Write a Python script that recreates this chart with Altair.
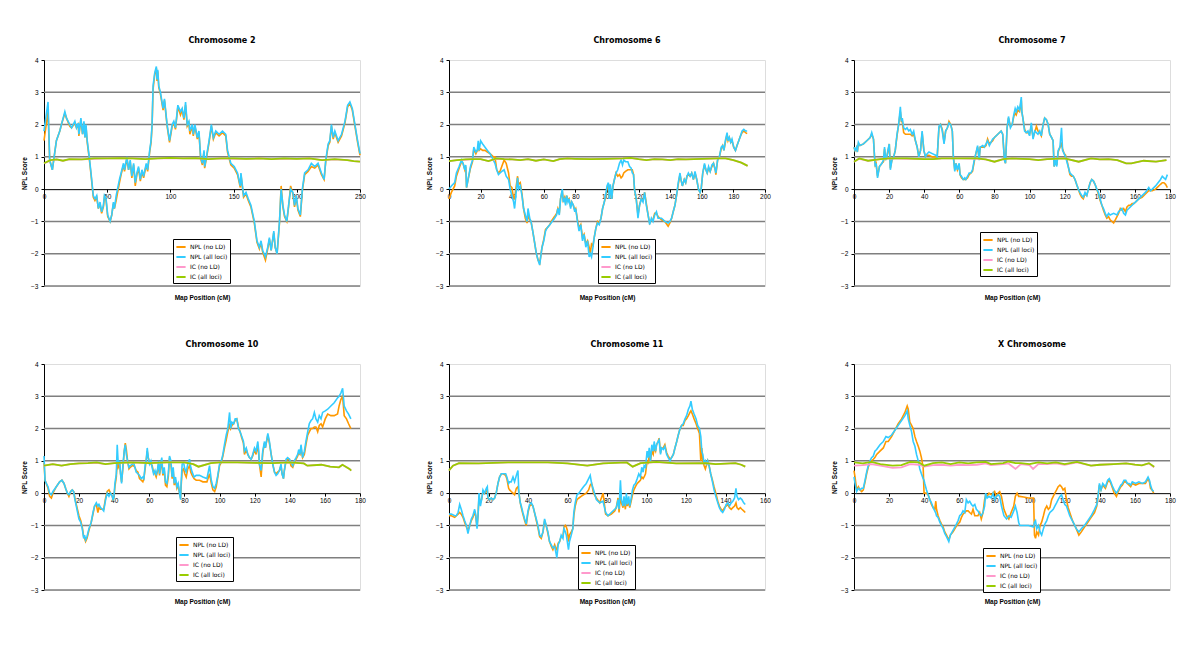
import altair as alt
import pandas as pd

FONT = "DejaVu Sans"
SERIES = ["NPL (no LD)", "NPL (all loci)", "IC (no LD)", "IC (all loci)"]
COLORS = ["#FF9900", "#33CCFF", "#FF99CC", "#99CC00"]
Y_TICKS = [-3, -2, -1, 0, 1, 2, 3, 4]
GRID_VALUES = [-3, -2, -1, 1, 2, 3]

# rows: (map position cM, NPL all loci, NPL no LD)
CHR2_NPL = [
    (0, 1.8, 1.5), (3.2, 2.7, 2.4), (4.5, 0.9, 0.9), (6.6, 0.6, 0.6), (9.8, 1.5, 1.5),
    (12.5, 1.8, 1.8), (13.8, 2.0, 2.0), (16.5, 2.4, 2.35), (17.8, 2.2, 2.2), (20.4, 2.0, 1.95),
    (21.8, 1.9, 1.9), (24.4, 2.1, 2.05), (25.7, 1.9, 1.9), (27.1, 2.05, 2.0), (27.6, 1.7, 1.65),
    (29.2, 2.2, 2.15), (30.5, 1.7, 1.7), (31.6, 2.1, 2.05), (32.4, 1.6, 1.6), (33.2, 2.0, 1.95),
    (34.2, 1.5, 1.45), (35.8, 1.0, 0.95), (37.2, 0.5, 0.45), (39.0, -0.2, -0.25), (40.3, -0.3, -0.35),
    (41.7, -0.2, -0.25), (43.0, -0.6, -0.6), (44.3, -0.4, -0.45), (45.6, -0.7, -0.75), (47.0, -0.5, -0.55),
    (47.8, -0.2, -0.25), (49.1, -0.3, -0.35), (50.4, -0.8, -0.85), (52.3, -1.0, -1.0), (53.6, -0.8, -0.8),
    (54.9, -0.4, -0.45), (55.7, -0.6, -0.6), (57.1, -0.2, -0.35), (59.7, 0.3, 0.2), (61.0, 0.5, 0.45),
    (62.9, 0.8, 0.75), (63.7, 0.6, 0.55), (65.6, 1.0, 0.95), (66.9, 0.6, 0.6), (68.2, 0.9, 0.85),
    (69.5, 0.4, 0.35), (70.9, 0.8, 0.75), (72.2, 0.2, 0.1), (73.5, 0.5, 0.45), (74.8, 0.7, 0.65),
    (76.2, 0.3, 0.25), (77.5, 0.6, 0.55), (78.8, 0.4, 0.35), (80.9, 0.8, 0.75), (82.0, 0.6, 0.55),
    (83.6, 1.2, 1.15), (84.7, 1.5, 1.45), (85.5, 2.0, 1.95), (86.3, 3.2, 3.1), (87.6, 3.6, 3.55),
    (88.9, 3.8, 3.75), (89.4, 3.4, 3.35), (90.0, 3.7, 3.65), (90.8, 3.2, 3.15), (92.1, 3.0, 2.95),
    (94.2, 2.5, 2.45), (95.3, 2.8, 2.75), (97.4, 2.0, 1.95), (99.3, 1.5, 1.45), (101.4, 2.0, 1.95),
    (102.7, 2.1, 2.05), (104.0, 1.9, 1.85), (105.9, 2.6, 2.55), (108.0, 2.4, 2.3), (109.3, 2.5, 2.45),
    (110.7, 2.2, 2.15), (112.0, 2.7, 2.6), (113.3, 2.0, 1.95), (114.6, 2.1, 2.05), (115.4, 1.8, 1.7),
    (117.3, 2.0, 1.95), (118.1, 1.7, 1.65), (119.4, 2.0, 1.95), (121.3, 1.6, 1.55), (122.6, 1.8, 1.75),
    (123.9, 1.0, 0.95), (125.3, 0.8, 0.75), (126.6, 1.2, 1.15), (127.1, 0.7, 0.65), (128.5, 1.0, 0.95),
    (130.6, 1.5, 1.45), (132.4, 2.0, 1.95), (134.0, 1.6, 1.55), (135.9, 1.8, 1.75), (138.5, 1.7, 1.65),
    (141.2, 1.8, 1.75), (143.8, 1.7, 1.65), (145.2, 1.2, 1.15), (147.8, 0.8, 0.75), (150.5, 0.7, 0.65),
    (153.1, 0.5, 0.45), (155.3, 0.1, 0.05), (155.8, 0.5, 0.45), (157.9, -0.2, -0.25), (159.8, -0.1, -0.15),
    (161.6, -0.3, -0.35), (163.7, -0.5, -0.55), (166.4, -1.0, -1.05), (168.5, -1.6, -1.65), (170.4, -1.8, -1.85),
    (171.7, -1.6, -1.65), (173.0, -1.9, -1.95), (175.2, -2.1, -2.2), (177.0, -1.8, -1.85), (178.3, -1.5, -1.55),
    (179.7, -1.9, -1.9), (181.8, -1.3, -1.35), (182.9, -1.8, -1.8), (184.4, -2.0, -2.0), (186.3, -1.0, -1.05),
    (187.6, 0.0, 0.1), (189.0, -0.5, -0.55), (190.3, -0.8, -0.85), (192.1, -1.0, -1.0), (193.5, -0.5, -0.55),
    (195.1, 0.0, 0.1), (196.9, -0.1, -0.15), (198.2, -0.5, -0.55), (199.6, -0.2, -0.25), (200.9, -0.6, -0.65),
    (202.8, -0.8, -0.85), (204.4, 0.0, -0.05), (206.2, 0.5, 0.45), (208.9, 0.6, 0.55), (211.5, 0.8, 0.7),
    (214.2, 0.7, 0.65), (216.8, 0.8, 0.75), (219.5, 0.5, 0.45), (221.6, 0.3, 0.3), (222.9, 0.9, 0.85),
    (224.8, 1.4, 1.35), (226.1, 1.5, 1.45), (227.4, 2.0, 1.95), (228.8, 1.6, 1.55), (230.1, 1.8, 1.75),
    (232.7, 1.5, 1.45), (235.4, 1.7, 1.65), (238.1, 2.1, 2.05), (240.2, 2.6, 2.55), (242.0, 2.7, 2.65),
    (243.9, 2.5, 2.45), (246.0, 2.0, 1.95), (248.1, 1.5, 1.45), (250.0, 1.1, 1.05),
]
# rows: (map position cM, IC all loci, IC no LD)
CHR2_IC = [
    (0, 0.80, 0.80), (5, 0.90, 0.89), (10, 0.92, 0.92), (15, 0.88, 0.88), (20, 0.93, 0.92),
    (30, 0.92, 0.92), (40, 0.95, 0.94), (50, 0.95, 0.95), (60, 0.96, 0.95), (70, 0.95, 0.95),
    (80, 0.93, 0.93), (90, 0.95, 0.95), (100, 0.97, 0.96), (110, 0.95, 0.95), (120, 0.96, 0.95),
    (130, 0.93, 0.93), (140, 0.95, 0.95), (150, 0.95, 0.94), (160, 0.94, 0.94), (170, 0.95, 0.95),
    (180, 0.93, 0.93), (190, 0.95, 0.94), (200, 0.94, 0.94), (210, 0.95, 0.95), (220, 0.90, 0.90),
    (230, 0.93, 0.92), (240, 0.90, 0.90), (245, 0.87, 0.87), (250, 0.85, 0.85),
]

CHR6_NPL = [
    (0, 0.0, -0.3), (1.5, 0.1, -0.1), (3.6, 0.2, 0.1), (4.7, 0.5, 0.4), (6.4, 0.7, 0.65),
    (7.9, 0.9, 0.85), (8.9, 0.8, 0.8), (10.0, 0.6, 0.6), (10.6, 0.75, 0.7), (11.1, 0.05, 0.05),
    (12.1, 0.3, 0.3), (13.6, 0.7, 0.65), (14.9, 0.9, 0.85), (15.7, 1.3, 1.25), (17.0, 1.15, 1.1),
    (17.9, 1.2, 1.2), (18.5, 1.5, 1.3), (19.1, 1.2, 1.2), (20.0, 1.5, 1.25), (21.3, 1.4, 1.2),
    (22.8, 1.3, 1.2), (24.3, 1.2, 1.15), (26.0, 1.1, 1.1), (28.1, 0.9, 1.0), (29.1, 0.8, 1.0),
    (30.2, 0.6, 0.6), (31.3, 0.45, 0.5), (32.3, 0.5, 0.55), (33.4, 0.55, 0.7), (34.9, 0.6, 0.9),
    (36.2, 0.4, 0.8), (37.7, 0.3, 0.5), (38.7, 0.0, 0.1), (39.8, -0.2, 0.05), (40.9, -0.4, -0.3),
    (41.5, -0.6, -0.3), (42.3, -0.2, 0.0), (43.4, 0.35, 0.4), (44.0, 0.0, 0.15), (45.1, 0.1, 0.2),
    (46.2, -0.2, -0.15), (47.2, -0.6, -0.6), (48.3, -0.8, -0.9), (49.4, -1.0, -1.05), (50.0, -0.6, -0.8),
    (51.1, -0.9, -0.95), (51.9, -1.0, -1.0), (53.0, -1.3, -1.3), (54.0, -1.6, -1.6), (55.3, -2.0, -2.0),
    (56.4, -2.2, -2.2), (57.4, -2.35, -2.3), (58.3, -2.0, -2.0), (58.9, -1.8, -1.8), (60.0, -1.6, -1.55),
    (61.1, -1.3, -1.25), (62.1, -1.2, -1.2), (63.8, -1.1, -1.1), (65.3, -1.0, -0.95), (66.8, -0.9, -0.85),
    (68.1, -0.8, -0.75), (68.9, -0.6, -0.6), (69.8, -0.8, -0.75), (70.6, -0.3, -0.3), (71.7, 0.0, -0.05),
    (72.3, -0.4, -0.35), (73.2, -0.3, -0.25), (73.8, -0.5, -0.45), (74.5, -0.2, -0.2), (75.3, -0.4, -0.35),
    (76.0, -0.3, -0.3), (77.0, -0.6, -0.55), (77.7, -0.4, -0.4), (78.7, -0.5, -0.5), (79.6, -0.7, -0.65),
    (80.2, -0.6, -0.6), (81.3, -1.0, -0.95), (82.3, -1.3, -1.2), (83.4, -1.1, -1.1), (84.5, -1.6, -1.5),
    (85.5, -1.4, -1.4), (86.6, -1.8, -1.7), (87.7, -1.6, -1.6), (88.7, -2.1, -1.8), (89.4, -2.0, -2.0),
    (90.2, -2.1, -1.7), (91.1, -1.8, -1.75), (91.9, -1.5, -1.5), (93.0, -1.2, -1.2), (94.0, -1.05, -1.0),
    (95.1, -1.1, -1.05), (96.2, -0.9, -0.9), (97.2, -0.6, -0.6), (98.3, -0.4, -0.4), (99.1, -0.2, -0.25),
    (100.0, 0.1, 0.0), (100.9, 0.2, 0.15), (101.5, -0.3, -0.25), (102.1, 0.15, 0.1), (103.0, -0.3, -0.3),
    (103.8, 0.1, 0.1), (104.7, 0.3, 0.3), (105.7, 0.5, 0.5), (106.8, 0.6, 0.4), (107.9, 0.8, 0.45),
    (108.9, 0.9, 0.35), (109.8, 0.75, 0.4), (110.6, 0.9, 0.5), (111.7, 0.85, 0.55), (113.2, 0.85, 0.6),
    (114.3, 0.7, 0.6), (115.3, 0.65, 0.6), (116.0, 0.5, 0.6), (116.8, 0.45, 0.45), (117.4, 0.0, 0.0),
    (118.5, -0.3, -0.3), (119.6, -0.9, -0.8), (120.6, -0.5, -0.5), (121.7, -0.3, -0.3), (122.8, -0.4, -0.35),
    (123.8, -0.1, -0.1), (124.9, -0.5, -0.45), (126.0, -0.8, -0.8), (127.0, -1.1, -1.05), (128.1, -0.9, -0.95),
    (129.1, -1.0, -0.95), (130.2, -0.8, -0.75), (131.3, -0.7, -0.75), (132.3, -0.9, -0.85), (134.5, -0.9, -0.95),
    (136.6, -1.0, -1.0), (138.7, -1.05, -1.15), (139.8, -1.0, -1.05), (140.9, -0.9, -0.9), (141.9, -0.7, -0.7),
    (143.0, -0.5, -0.5), (144.0, -0.2, -0.2), (145.1, 0.2, 0.15), (146.2, 0.5, 0.45), (146.8, 0.3, 0.3),
    (147.7, 0.1, 0.1), (148.9, 0.3, 0.3), (149.8, 0.2, 0.2), (150.6, 0.4, 0.4), (151.5, 0.5, 0.45),
    (152.6, 0.4, 0.4), (153.6, 0.5, 0.5), (154.7, 0.3, 0.3), (155.7, 0.55, 0.5), (156.8, 0.3, 0.3),
    (157.9, 0.0, 0.0), (158.9, -0.1, -0.1), (159.6, 0.0, 0.0), (160.6, 0.5, 0.5), (161.7, 0.8, 0.75),
    (162.6, 0.6, 0.6), (163.4, 0.5, 0.5), (164.3, 0.7, 0.65), (165.3, 0.55, 0.55), (166.4, 0.75, 0.7),
    (167.4, 0.8, 0.8), (168.5, 0.6, 0.6), (168.9, 0.5, 0.45), (170.0, 0.9, 0.9), (171.1, 1.0, 1.0),
    (172.3, 1.3, 1.25), (173.2, 1.35, 1.35), (174.0, 1.2, 1.2), (174.9, 1.5, 1.45), (176.0, 1.75, 1.7),
    (176.6, 1.5, 1.5), (177.4, 1.6, 1.6), (178.3, 1.45, 1.45), (179.1, 1.55, 1.5), (180.2, 1.3, 1.3),
    (181.3, 1.2, 1.2), (182.3, 1.35, 1.35), (183.4, 1.5, 1.5), (184.5, 1.65, 1.65), (185.5, 1.8, 1.75),
    (186.6, 1.85, 1.8), (187.7, 1.8, 1.75), (188.7, 1.8, 1.72),
]
CHR6_IC = [
    (0, 0.87, 0.87), (5, 0.90, 0.90), (10, 0.92, 0.91), (15, 0.93, 0.93), (20, 0.93, 0.93),
    (25, 0.87, 0.87), (30, 0.95, 0.94), (35, 0.93, 0.93), (40, 0.92, 0.92), (45, 0.90, 0.90),
    (50, 0.93, 0.93), (55, 0.88, 0.88), (60, 0.92, 0.92), (66, 0.87, 0.87), (70, 0.93, 0.93),
    (75, 0.95, 0.95), (80, 0.94, 0.94), (90, 0.93, 0.93), (100, 0.94, 0.94), (110, 0.95, 0.95),
    (115, 0.97, 0.96), (120, 0.93, 0.93), (125, 0.90, 0.90), (130, 0.93, 0.93), (135, 0.92, 0.92),
    (140, 0.90, 0.90), (145, 0.93, 0.93), (150, 0.92, 0.92), (160, 0.94, 0.94), (170, 0.95, 0.95),
    (175, 0.95, 0.95), (180, 0.90, 0.90), (185, 0.82, 0.82), (189, 0.72, 0.72),
]

CHR7_NPL = [
    (0, 1.3, 1.3), (0.6, 1.2, 1.2), (1.5, 1.3, 1.3), (1.9, 1.15, 1.15), (2.5, 1.45, 1.4),
    (3.4, 1.35, 1.35), (5.4, 1.4, 1.4), (7.3, 1.5, 1.5), (9.2, 1.6, 1.6), (10.1, 1.75, 1.7),
    (11.1, 1.55, 1.55), (11.7, 1.0, 1.0), (12.1, 0.7, 0.75), (12.6, 0.8, 0.8), (13.4, 0.35, 0.4),
    (14.5, 0.7, 0.7), (15.9, 0.8, 0.8), (16.8, 0.9, 0.85), (17.4, 1.3, 1.25), (18.0, 0.9, 0.9),
    (18.7, 1.0, 1.0), (19.3, 1.2, 1.15), (20.1, 1.4, 1.4), (20.7, 0.6, 0.65), (21.6, 0.9, 0.9),
    (22.6, 1.0, 1.0), (23.5, 1.2, 1.2), (24.5, 1.7, 1.65), (25.4, 2.0, 2.0), (26.4, 2.55, 2.4),
    (27.0, 2.1, 2.1), (27.5, 2.2, 2.1), (28.3, 1.9, 1.75), (29.3, 1.85, 1.7), (30.2, 1.9, 1.7),
    (31.2, 1.8, 1.7), (32.1, 1.85, 1.7), (33.1, 1.7, 1.65), (34.0, 1.8, 1.7), (35.0, 1.5, 1.5),
    (36.0, 1.3, 1.3), (36.9, 1.0, 1.0), (37.9, 1.2, 1.2), (38.8, 1.8, 1.75), (39.8, 1.2, 1.2),
    (40.7, 1.0, 1.0), (41.7, 1.1, 1.05), (42.7, 1.15, 1.05), (44.6, 1.1, 1.0), (46.5, 1.05, 1.0),
    (47.4, 1.0, 1.0), (48.4, 1.95, 1.9), (49.3, 2.0, 2.0), (50.3, 1.8, 1.85), (51.3, 1.4, 1.45),
    (52.2, 1.8, 1.8), (53.2, 1.9, 1.9), (54.1, 2.05, 2.1), (55.1, 2.0, 2.0), (56.0, 1.8, 1.8),
    (56.6, 1.0, 1.0), (57.4, 0.55, 0.6), (58.1, 0.8, 0.8), (58.9, 0.6, 0.6), (59.9, 0.8, 0.75),
    (60.4, 0.45, 0.45), (61.2, 0.4, 0.35), (62.2, 0.3, 0.3), (63.1, 0.35, 0.3), (63.7, 0.3, 0.3),
    (64.7, 0.4, 0.35), (65.6, 0.5, 0.45), (66.6, 0.5, 0.5), (67.5, 0.6, 0.55), (68.5, 0.9, 0.85),
    (69.4, 1.1, 1.1), (70.4, 1.35, 1.3), (71.3, 0.9, 0.95), (71.9, 1.3, 1.3), (73.3, 1.35, 1.3),
    (74.2, 1.3, 1.3), (75.2, 1.4, 1.35), (76.1, 1.5, 1.55), (77.1, 1.35, 1.4), (78.0, 1.45, 1.45),
    (79.0, 1.55, 1.5), (80.0, 1.6, 1.6), (81.9, 1.7, 1.7), (83.8, 1.8, 1.8), (84.7, 1.7, 1.7),
    (85.7, 0.9, 0.9), (86.3, 0.8, 0.8), (87.2, 1.9, 1.9), (88.0, 2.25, 2.2), (89.1, 1.9, 1.95),
    (90.1, 2.0, 2.0), (91.0, 2.3, 2.25), (91.8, 2.5, 2.35), (92.4, 2.4, 2.3), (93.3, 2.55, 2.45),
    (94.3, 2.45, 2.4), (95.3, 2.85, 2.75), (95.6, 2.4, 2.4), (96.2, 2.2, 2.2), (97.2, 1.8, 1.85),
    (98.1, 1.75, 1.75), (99.1, 1.8, 1.75), (100.0, 1.65, 1.7), (101.0, 2.05, 1.95), (102.0, 1.55, 1.6),
    (102.9, 1.8, 1.75), (103.9, 1.75, 1.95), (104.8, 1.7, 1.8), (105.8, 1.8, 1.75), (106.7, 1.65, 1.65),
    (107.7, 2.0, 2.0), (108.6, 2.2, 2.2), (109.6, 2.15, 2.15), (110.6, 2.0, 2.0), (111.5, 1.7, 1.7),
    (112.5, 1.6, 1.6), (113.4, 1.5, 1.5), (114.0, 0.7, 0.7), (114.8, 0.9, 0.85), (115.5, 0.7, 0.75),
    (116.3, 1.2, 1.15), (117.3, 1.3, 1.3), (118.2, 1.9, 1.4), (118.8, 1.2, 1.25), (119.7, 1.1, 1.1),
    (120.5, 1.0, 1.05), (121.5, 0.8, 0.85), (123.0, 0.5, 0.45), (123.9, 0.45, 0.4), (124.9, 0.4, 0.4),
    (125.9, 0.3, 0.3), (126.8, 0.15, 0.15), (127.8, 0.0, 0.0), (128.7, -0.1, -0.15), (129.7, -0.2, -0.25),
    (130.6, -0.25, -0.3), (131.6, -0.1, -0.15), (132.6, -0.2, -0.2), (133.5, 0.0, 0.0), (134.5, 0.2, 0.2),
    (135.4, 0.3, 0.3), (136.4, 0.25, 0.25), (137.3, 0.15, 0.15), (138.3, 0.0, 0.0), (139.2, -0.1, -0.15),
    (140.2, -0.3, -0.35), (141.2, -0.5, -0.5), (142.1, -0.6, -0.65), (143.1, -0.75, -0.8), (144.0, -0.85, -0.9),
    (145.0, -0.75, -0.85), (145.9, -0.8, -0.95), (147.9, -0.75, -1.05), (149.8, -0.8, -0.85), (150.7, -0.7, -0.75),
    (151.7, -0.65, -0.6), (152.6, -0.6, -0.65), (153.6, -0.75, -0.6), (154.6, -0.8, -0.7), (155.5, -0.65, -0.55),
    (156.5, -0.6, -0.5), (157.4, -0.55, -0.5), (158.4, -0.5, -0.45), (159.3, -0.45, -0.45), (160.3, -0.4, -0.4),
    (162.2, -0.3, -0.3), (164.1, -0.2, -0.25), (166.0, -0.1, -0.15), (167.9, 0.05, -0.05), (168.9, -0.05, -0.05),
    (169.9, 0.0, -0.05), (171.8, 0.1, 0.0), (174.6, 0.3, 0.15), (175.6, 0.4, 0.2), (176.5, 0.35, 0.2),
    (177.5, 0.3, 0.15), (178.5, 0.45, 0.05),
]
CHR7_IC = [
    (0, 0.85, 0.85), (3, 0.95, 0.94), (8, 0.88, 0.88), (15, 0.93, 0.93), (20, 0.95, 0.95),
    (30, 0.95, 0.94), (40, 0.93, 0.93), (45, 0.93, 0.93), (50, 0.95, 0.95), (60, 0.95, 0.95),
    (70, 0.95, 0.94), (75, 0.92, 0.92), (80, 0.85, 0.85), (85, 0.93, 0.93), (90, 0.95, 0.95),
    (100, 0.93, 0.93), (105, 0.90, 0.90), (110, 0.93, 0.93), (120, 0.95, 0.95), (128, 0.85, 0.85),
    (135, 0.95, 0.95), (140, 0.92, 0.92), (145, 0.93, 0.93), (150, 0.90, 0.90), (155, 0.80, 0.80),
    (158, 0.80, 0.80), (165, 0.88, 0.88), (172, 0.85, 0.85), (178, 0.90, 0.90),
]

CHR10_NPL = [
    (0, 1.15, 0.95), (0.6, 0.4, 0.4), (1.3, 0.3, 0.3), (2.3, 0.2, 0.15), (3.2, 0.0, -0.1),
    (4.2, -0.05, -0.15), (5.1, 0.05, 0.0), (7.0, 0.2, 0.2), (8.9, 0.35, 0.35), (10.2, 0.4, 0.4),
    (11.4, 0.3, 0.3), (12.3, 0.15, 0.15), (13.3, 0.0, 0.0), (14.2, -0.05, -0.1), (15.2, 0.05, 0.05),
    (16.1, 0.1, 0.1), (16.9, 0.05, 0.05), (17.6, -0.2, -0.15), (18.4, -0.4, -0.35), (19.9, -0.8, -0.7),
    (20.9, -0.9, -0.85), (21.8, -1.1, -1.05), (22.6, -1.4, -1.35), (23.1, -1.3, -1.4), (23.7, -1.45, -1.5),
    (24.5, -1.35, -1.4), (25.6, -1.1, -1.15), (26.9, -0.9, -0.9), (27.9, -0.6, -0.65), (28.8, -0.4, -0.4),
    (29.8, -0.3, -0.35), (30.7, -0.4, -0.6), (31.3, -0.35, -0.45), (32.2, -0.45, -0.5), (33.2, -0.5, -0.5),
    (34.0, -0.55, -0.5), (35.1, -0.2, -0.15), (36.0, 0.0, 0.05), (37.0, -0.1, 0.1), (37.9, 0.0, 0.0),
    (38.9, -0.1, -0.1), (39.3, -0.2, -0.2), (39.8, -0.15, -0.15), (40.4, 0.3, 0.2), (41.2, 0.6, 0.5),
    (41.7, 1.5, 1.0), (42.3, 0.9, 0.8), (43.1, 1.0, 0.9), (43.6, 0.6, 0.6), (44.2, 0.3, 0.35),
    (45.0, 0.9, 0.8), (45.7, 1.3, 1.3), (46.3, 1.5, 1.55), (46.9, 1.2, 1.35), (47.6, 1.0, 1.0),
    (48.4, 0.8, 0.75), (49.1, 0.85, 0.8), (50.3, 0.9, 0.85), (51.0, 0.95, 0.85), (51.8, 0.8, 0.8),
    (52.5, 0.65, 0.7), (53.5, 0.6, 0.65), (54.4, 0.55, 0.45), (55.4, 0.45, 0.4), (56.3, 0.5, 0.35),
    (56.9, 0.45, 0.45), (57.7, 0.9, 0.8), (58.2, 1.0, 1.0), (58.8, 1.4, 1.3), (59.4, 1.1, 1.1),
    (60.1, 0.9, 0.95), (60.9, 1.0, 0.9), (61.6, 0.8, 0.85), (62.4, 0.6, 0.65), (63.2, 0.7, 0.6),
    (63.9, 0.55, 0.5), (64.7, 0.75, 0.7), (65.3, 1.0, 0.9), (65.8, 0.6, 0.55), (66.6, 0.95, 0.85),
    (67.1, 1.1, 1.0), (67.7, 0.6, 0.55), (68.5, 0.8, 0.7), (69.2, 0.35, 0.25), (70.0, 0.3, 0.2),
    (70.8, 0.6, 0.5), (71.5, 1.15, 1.1), (72.3, 1.0, 0.9), (73.0, 0.5, 0.45), (73.6, 0.8, 0.7),
    (74.2, 0.3, 0.25), (74.9, 0.5, 0.4), (75.7, 0.2, 0.15), (76.4, 0.3, 0.25), (77.2, 0.0, 0.0),
    (77.8, -0.2, -0.15), (78.1, 0.3, 0.2), (78.7, 0.9, 0.7), (79.5, 0.95, 0.75), (80.2, 0.75, 0.6),
    (81.0, 0.65, 0.5), (81.9, 0.9, 0.75), (82.9, 1.05, 0.85), (83.6, 0.8, 0.65), (84.4, 0.65, 0.55),
    (85.5, 0.5, 0.45), (86.7, 0.55, 0.4), (88.6, 0.55, 0.4), (90.5, 0.5, 0.35), (92.8, 0.45, 0.35),
    (94.3, 0.85, 0.6), (95.3, 0.4, 0.3), (96.2, 0.2, 0.1), (97.2, 0.15, 0.05), (98.1, 0.3, 0.2),
    (99.0, 0.55, 0.5), (100.0, 0.9, 0.85), (101.0, 1.0, 0.95), (101.9, 1.2, 1.15), (102.8, 1.5, 1.4),
    (103.8, 1.8, 1.65), (104.7, 2.0, 1.9), (105.7, 2.5, 2.15), (106.3, 2.0, 2.0), (107.0, 2.2, 2.1),
    (108.0, 2.15, 2.15), (108.9, 2.3, 2.25), (109.8, 2.3, 2.3), (110.8, 2.0, 2.05), (111.7, 1.9, 1.9),
    (112.7, 1.75, 1.7), (113.6, 1.6, 1.55), (114.2, 1.3, 1.2), (115.2, 1.4, 1.35), (116.1, 1.2, 1.2),
    (117.0, 1.1, 1.1), (118.0, 1.05, 1.05), (118.9, 1.2, 1.15), (119.9, 1.4, 1.35), (120.8, 1.3, 1.2),
    (121.8, 1.6, 1.5), (122.3, 1.3, 1.2), (122.7, 0.9, 0.9), (123.7, 0.7, 0.5), (124.6, 1.3, 1.25),
    (125.6, 1.6, 1.55), (126.1, 1.4, 1.4), (127.5, 1.85, 1.8), (128.4, 1.6, 1.55), (129.4, 1.2, 1.2),
    (130.3, 0.9, 0.9), (131.3, 0.65, 0.65), (132.2, 0.55, 0.6), (133.1, 0.6, 0.65), (134.1, 0.7, 0.7),
    (135.0, 0.9, 0.85), (135.6, 0.6, 0.6), (136.4, 0.45, 0.45), (136.9, 0.7, 0.7), (137.9, 1.05, 1.0),
    (138.8, 1.1, 1.05), (139.8, 1.05, 1.05), (140.7, 0.95, 0.85), (141.7, 0.85, 0.8), (142.6, 1.0, 0.95),
    (143.6, 1.1, 1.05), (144.5, 1.2, 1.15), (145.1, 1.35, 1.25), (145.8, 1.2, 1.2), (146.4, 1.5, 1.4),
    (147.3, 1.1, 1.1), (148.3, 1.3, 1.2), (149.2, 1.6, 1.5), (150.2, 1.9, 1.8), (151.1, 2.15, 1.9),
    (152.1, 2.25, 2.0), (153.0, 2.3, 2.0), (154.0, 2.5, 2.05), (154.9, 2.3, 2.05), (155.9, 2.2, 1.9),
    (156.8, 2.4, 2.1), (157.8, 2.3, 2.15), (158.7, 2.5, 2.05), (160.2, 2.55, 2.3), (161.6, 2.6, 2.45),
    (163.4, 2.7, 2.4), (165.3, 2.8, 2.4), (167.2, 2.95, 2.45), (168.1, 3.0, 2.7), (169.1, 3.1, 2.9),
    (170.1, 3.25, 3.0), (171.0, 2.7, 2.4), (172.3, 2.55, 2.3), (173.5, 2.45, 2.15), (174.8, 2.3, 2.0),
]
CHR10_IC = [
    (0, 0.85, 0.85), (5, 0.90, 0.90), (10, 0.85, 0.85), (15, 0.90, 0.90), (20, 0.92, 0.92),
    (25, 0.93, 0.93), (30, 0.95, 0.94), (35, 0.90, 0.90), (40, 0.93, 0.93), (50, 0.95, 0.95),
    (60, 0.93, 0.93), (70, 0.95, 0.95), (80, 0.95, 0.95), (85, 0.90, 0.90), (88, 0.82, 0.82),
    (95, 0.93, 0.93), (100, 0.95, 0.95), (110, 0.95, 0.95), (120, 0.94, 0.94), (130, 0.93, 0.93),
    (140, 0.95, 0.95), (148, 0.92, 0.92), (150, 0.85, 0.85), (158, 0.88, 0.88), (163, 0.82, 0.82),
    (168, 0.80, 0.80), (170, 0.88, 0.88), (174, 0.75, 0.75), (175, 0.70, 0.70),
]

CHR11_NPL = [
    (0, -0.65, -0.7), (1.2, -0.65, -0.7), (2.9, -0.7, -0.75), (3.7, -0.7, -0.7), (4.6, -0.6, -0.65),
    (5.4, -0.35, -0.6), (6.2, -0.5, -0.65), (7.1, -0.7, -0.75), (7.9, -0.85, -0.9), (8.8, -1.0, -1.05),
    (9.6, -1.25, -1.15), (10.5, -1.0, -1.0), (11.3, -0.8, -0.85), (12.1, -0.7, -0.75), (13.0, -0.5, -0.6),
    (13.5, -0.65, -0.7), (14.2, -1.1, -1.05), (14.7, -0.7, -0.7), (15.2, 0.0, -0.1), (15.9, -0.4, -0.3),
    (16.5, -0.2, -0.2), (17.2, 0.1, 0.05), (18.0, 0.0, 0.0), (18.9, 0.15, 0.05), (19.4, 0.2, 0.1),
    (19.7, -0.15, -0.15), (20.6, -0.2, -0.2), (21.4, -0.15, -0.15), (22.3, -0.2, -0.2), (23.1, -0.15, -0.15),
    (23.9, 0.0, 0.0), (24.8, 0.3, 0.3), (25.6, 0.5, 0.5), (26.5, 0.6, 0.6), (27.3, 0.6, 0.6),
    (28.7, 0.6, 0.55), (29.3, 0.5, 0.45), (30.2, 0.3, 0.15), (30.7, 0.35, 0.1), (31.5, 0.35, 0.05),
    (32.4, 0.5, 0.0), (33.2, 0.35, -0.05), (34.1, 0.55, 0.15), (34.9, 0.7, 0.2), (35.4, 0.0, 0.0),
    (36.1, -0.3, -0.3), (36.6, -0.4, -0.45), (37.4, -0.6, -0.65), (38.3, -0.8, -0.85), (39.1, -0.95, -1.0),
    (40.0, -0.55, -0.6), (40.8, -0.35, -0.4), (41.7, -0.3, -0.35), (42.5, -0.4, -0.4), (43.3, -0.6, -0.6),
    (44.2, -0.8, -0.85), (45.0, -1.0, -1.05), (45.9, -1.3, -1.35), (46.7, -1.35, -1.4), (47.6, -1.2, -1.2),
    (48.4, -0.8, -0.85), (49.2, -1.0, -1.0), (50.1, -1.2, -1.25), (50.9, -1.5, -1.5), (51.8, -1.6, -1.65),
    (52.6, -1.7, -1.75), (53.5, -1.65, -1.6), (54.0, -1.8, -1.7), (54.6, -2.0, -1.75), (55.3, -1.6, -1.55),
    (56.0, -1.5, -1.5), (56.8, -1.3, -1.35), (57.7, -1.4, -1.35), (58.2, -1.1, -1.05), (58.9, -1.2, -1.0),
    (59.4, -1.3, -1.05), (59.9, -1.5, -1.15), (60.5, -1.75, -1.5), (61.0, -1.5, -1.3), (61.9, -1.3, -1.2),
    (62.7, -1.1, -1.1), (63.2, -0.6, -0.7), (63.9, -0.3, -0.4), (64.8, -0.05, -0.2), (65.8, 0.0, -0.15),
    (66.9, 0.1, -0.1), (68.1, 0.2, -0.05), (69.5, 0.3, 0.0), (70.7, 0.45, 0.1), (71.5, 0.55, 0.25),
    (72.2, 0.3, 0.3), (73.2, 0.1, 0.0), (74.6, -0.2, -0.15), (76.3, -0.3, -0.3), (78.0, -0.25, 0.0),
    (79.3, -0.6, -0.65), (80.5, -0.7, -0.7), (82.2, -0.6, -0.65), (83.9, -0.5, -0.55), (84.7, -0.45, -0.45),
    (85.6, -0.2, -0.15), (86.1, -0.5, -0.6), (86.8, 0.4, -0.1), (87.3, -0.2, -0.3), (88.1, -0.4, -0.45),
    (88.6, -0.1, -0.2), (89.3, -0.4, -0.5), (89.8, 0.0, -0.15), (90.3, -0.35, -0.4), (91.0, -0.1, -0.25),
    (91.5, -0.4, -0.45), (92.4, -0.1, -0.2), (92.9, 0.1, -0.05), (93.6, 0.25, 0.1), (94.4, 0.3, 0.2),
    (95.3, 0.45, 0.3), (96.1, 0.6, 0.35), (96.9, 0.5, 0.4), (97.6, 0.8, 0.5), (98.3, 0.65, 0.45),
    (98.8, 0.85, 0.5), (99.5, 0.8, 0.6), (100.3, 1.3, 1.0), (100.8, 1.1, 0.9), (101.4, 1.4, 1.2),
    (102.0, 1.0, 1.0), (102.7, 1.5, 1.3), (103.4, 1.3, 1.2), (103.9, 1.6, 1.4), (104.6, 1.3, 1.3),
    (105.1, 1.5, 1.5), (105.9, 1.6, 1.6), (106.4, 1.65, 1.7), (107.1, 1.2, 1.25), (107.6, 1.4, 1.4),
    (108.5, 1.35, 1.4), (109.3, 1.45, 1.5), (110.2, 1.2, 1.25), (111.0, 1.1, 1.15), (111.9, 1.0, 1.05),
    (112.7, 1.1, 1.1), (113.6, 1.2, 1.2), (114.4, 1.4, 1.4), (115.3, 1.6, 1.6), (116.1, 1.8, 1.8),
    (117.0, 2.0, 2.0), (117.8, 2.1, 2.1), (118.6, 2.15, 2.1), (119.5, 2.3, 2.25), (120.3, 2.4, 2.3),
    (121.2, 2.6, 2.4), (122.0, 2.7, 2.5), (122.5, 2.85, 2.55), (123.2, 2.6, 2.45), (124.1, 2.45, 2.3),
    (125.1, 2.3, 2.15), (125.9, 2.1, 2.0), (126.8, 2.0, 1.85), (127.5, 1.75, 1.0), (128.0, 1.3, 1.4),
    (128.5, 1.2, 1.0), (129.2, 0.9, 0.85), (129.8, 1.0, 0.75), (130.5, 0.9, 0.9), (131.0, 1.0, 1.0),
    (131.7, 0.85, 0.85), (132.5, 0.6, 0.6), (133.4, 0.35, 0.4), (134.2, 0.1, 0.2), (135.1, -0.1, 0.0),
    (136.1, -0.3, -0.25), (136.9, -0.45, -0.4), (137.8, -0.55, -0.5), (138.6, -0.6, -0.55), (139.5, -0.5, -0.45),
    (140.3, -0.35, -0.4), (141.2, -0.3, -0.35), (142.0, -0.4, -0.45), (142.9, -0.3, -0.5), (143.7, -0.25, -0.45),
    (144.6, -0.15, -0.4), (145.3, 0.15, -0.3), (145.8, -0.1, -0.45), (146.6, -0.2, -0.5), (147.5, -0.15, -0.45),
    (148.3, -0.2, -0.5), (149.2, -0.3, -0.55), (150.0, -0.35, -0.6),
]
CHR11_IC = [
    (0, 0.70, 0.70), (2, 0.85, 0.85), (5, 0.93, 0.92), (15, 0.92, 0.92), (30, 0.95, 0.95),
    (50, 0.95, 0.95), (60, 0.92, 0.92), (70, 0.85, 0.85), (78, 0.92, 0.92), (90, 0.95, 0.95),
    (93, 0.82, 0.82), (97, 0.93, 0.93), (105, 0.97, 0.96), (115, 0.92, 0.92), (130, 0.93, 0.93),
    (135, 0.90, 0.90), (145, 0.93, 0.93), (148, 0.88, 0.88), (150, 0.82, 0.82),
]

CHRX_NPL = [
    (0, 0.5, 0.7), (0.6, 0.3, 0.5), (1.5, 0.05, 0.1), (2.5, 0.15, 0.2), (3.4, 0.1, 0.1),
    (4.4, 0.15, 0.05), (5.3, 0.15, 0.1), (6.3, 0.4, 0.35), (7.2, 0.65, 0.6), (8.1, 0.85, 0.8),
    (9.1, 1.0, 0.95), (10.0, 1.1, 1.0), (11.0, 1.15, 1.05), (11.9, 1.3, 1.1), (12.9, 1.35, 1.2),
    (14.8, 1.5, 1.3), (16.7, 1.6, 1.4), (18.2, 1.75, 1.6), (19.5, 1.72, 1.6), (21.4, 1.8, 1.75),
    (23.3, 1.95, 1.95), (25.2, 2.1, 2.15), (27.1, 2.25, 2.3), (29.0, 2.4, 2.5), (30.3, 2.55, 2.7),
    (30.9, 2.3, 2.6), (31.8, 2.1, 2.2), (32.8, 1.9, 2.1), (33.7, 1.6, 2.0), (34.7, 1.45, 1.75),
    (35.6, 1.2, 1.6), (36.6, 1.0, 1.45), (37.5, 0.75, 1.3), (38.4, 0.6, 1.1), (39.4, 0.45, 0.8),
    (39.9, 0.4, 0.0), (40.3, 0.3, 0.0), (41.3, 0.1, 0.0), (42.2, -0.05, -0.05), (43.2, -0.2, -0.2),
    (44.1, -0.3, -0.35), (45.1, -0.45, -0.45), (46.0, -0.55, -0.5), (46.6, -0.62, -0.25), (47.0, -0.7, -0.5),
    (47.9, -0.75, -0.7), (48.9, -0.9, -0.85), (49.8, -1.0, -0.95), (50.8, -1.1, -1.05), (51.7, -1.25, -1.2),
    (52.7, -1.35, -1.3), (54.0, -1.5, -1.45), (54.9, -1.3, -1.3), (56.4, -1.15, -1.2), (58.0, -1.0, -1.05),
    (59.3, -0.85, -0.95), (60.2, -0.7, -0.9), (61.2, -0.65, -0.75), (62.1, -0.55, -0.65), (63.1, -0.6, -0.6),
    (64.0, -0.2, -0.55), (65.0, -0.3, -0.55), (65.9, -0.25, -0.6), (66.9, -0.35, -0.65), (67.8, -0.4, -0.5),
    (68.8, -0.35, -0.7), (69.7, -0.5, -0.7), (70.6, -0.55, -0.7), (71.6, -0.65, -0.6), (72.5, -0.7, -0.8),
    (73.5, -0.6, -0.6), (74.4, -0.4, -0.2), (75.0, 0.0, -0.05), (75.8, -0.15, -0.1), (76.9, -0.1, 0.0),
    (78.2, -0.15, -0.05), (79.2, 0.0, 0.0), (80.1, -0.2, 0.05), (81.1, -0.1, -0.1), (82.0, -0.05, 0.0),
    (83.0, -0.1, 0.05), (84.0, -0.4, -0.1), (85.4, -0.7, -0.5), (86.9, -0.8, -0.7), (88.2, -0.7, -0.8),
    (89.5, -0.75, -0.6), (91.0, -0.55, -0.4), (91.9, -0.4, -0.1), (92.9, -0.6, 0.0), (93.8, -0.9, -0.1),
    (94.4, -1.0, -0.1), (96.6, -1.0, -0.12), (99.4, -1.0, -0.15), (102.3, -1.05, -0.15), (102.8, -0.9, -1.3),
    (103.4, -0.85, -1.4), (104.1, -1.1, -1.2), (105.1, -1.0, -1.3), (106.0, -1.2, -1.0), (106.9, -1.3, -0.9),
    (107.9, -1.1, -0.7), (108.8, -0.95, -0.5), (109.8, -0.85, -0.4), (110.7, -0.7, -0.5), (111.6, -0.6, -0.45),
    (112.6, -0.55, -0.2), (113.5, -0.5, -0.1), (114.4, -0.4, 0.0), (115.4, -0.3, 0.1), (116.3, -0.2, 0.2),
    (117.3, -0.1, 0.25), (118.2, -0.05, 0.2), (119.1, -0.2, 0.1), (120.1, -0.35, 0.15), (121.0, -0.4, -0.2),
    (122.0, -0.55, -0.45), (122.9, -0.7, -0.6), (123.8, -0.8, -0.75), (124.8, -0.9, -0.9), (125.7, -1.0, -1.0),
    (126.6, -1.1, -1.1), (128.1, -1.2, -1.3), (129.5, -1.1, -1.2), (131.3, -1.0, -1.05), (133.2, -0.85, -0.9),
    (135.1, -0.7, -0.75), (137.0, -0.5, -0.6), (138.3, -0.35, -0.4), (139.0, -0.1, -0.1), (139.8, 0.3, 0.25),
    (140.7, 0.1, 0.1), (141.7, 0.3, 0.25), (143.2, 0.2, 0.15), (144.5, 0.4, 0.35), (145.4, 0.45, 0.4),
    (146.3, 0.35, 0.3), (147.3, 0.2, 0.15), (148.2, 0.1, 0.0), (149.5, 0.0, -0.1), (150.1, 0.05, 0.0),
    (151.0, 0.15, 0.1), (152.0, 0.25, 0.2), (152.9, 0.3, 0.25), (153.8, 0.4, 0.35), (154.8, 0.4, 0.35),
    (155.7, 0.3, 0.3), (156.7, 0.3, 0.25), (157.6, 0.25, 0.2), (158.5, 0.35, 0.3), (160.4, 0.3, 0.25),
    (162.3, 0.35, 0.3), (164.2, 0.3, 0.3), (166.0, 0.35, 0.3), (167.5, 0.5, 0.45), (168.3, 0.4, 0.35),
    (168.9, 0.25, 0.15), (169.8, 0.1, 0.1), (170.7, 0.05, 0.0),
]
CHRX_IC = [
    (0, 0.95, 0.85), (5, 0.92, 0.87), (10, 0.97, 0.90), (15, 0.90, 0.85), (22, 0.85, 0.78),
    (27, 0.87, 0.80), (32, 0.97, 0.90), (37, 0.95, 0.88), (40, 0.85, 0.82), (45, 0.93, 0.87),
    (50, 0.95, 0.88), (55, 0.90, 0.85), (60, 0.95, 0.88), (65, 0.92, 0.87), (70, 0.95, 0.88),
    (75, 0.97, 0.92), (78, 0.90, 0.87), (85, 0.93, 0.90), (88, 0.98, 0.92), (92, 0.93, 0.75),
    (95, 0.93, 0.90), (100, 0.90, 0.87), (102, 0.92, 0.75), (105, 0.95, 0.90), (110, 0.92, 0.90),
    (115, 0.95, 0.92), (120, 0.90, 0.88), (127, 0.97, 0.95), (135, 0.85, 0.85), (140, 0.88, 0.88),
    (148, 0.90, 0.90), (155, 0.92, 0.92), (160, 0.88, 0.88), (164, 0.86, 0.86), (168, 0.93, 0.92),
    (171, 0.82, 0.80),
]

PANELS = [
    dict(title="Chromosome 2", npl=CHR2_NPL, ic=CHR2_IC, xmax=250, xstep=50, lx=129, ly=179),
    dict(title="Chromosome 6", npl=CHR6_NPL, ic=CHR6_IC, xmax=200, xstep=20, lx=149, ly=179),
    dict(title="Chromosome 7", npl=CHR7_NPL, ic=CHR7_IC, xmax=180, xstep=20, lx=126, ly=172),
    dict(title="Chromosome 10", npl=CHR10_NPL, ic=CHR10_IC, xmax=180, xstep=20, lx=132, ly=173),
    dict(title="Chromosome 11", npl=CHR11_NPL, ic=CHR11_IC, xmax=160, xstep=20, lx=129, ly=181),
    dict(title="X Chromosome", npl=CHRX_NPL, ic=CHRX_IC, xmax=180, xstep=20, lx=129, ly=184),
]

W, H = 316, 226
ZERO_OFFSET = -H * 3 / 7


def make_panel(p):
    xs = alt.Scale(domain=[0, p["xmax"]], nice=False, zero=False)
    ys = alt.Scale(domain=[-3, 4], nice=False, zero=False)
    xaxis = alt.Axis(
        values=list(range(0, p["xmax"] + 1, p["xstep"])), offset=ZERO_OFFSET,
        title="Map Position (cM)", titleY=-ZERO_OFFSET + 11, titleBaseline="middle",
        titleFontSize=6.5, titleFontWeight="bold", grid=False,
        domainColor="#000000", domainWidth=1, tickColor="#000000", tickSize=3,
        labelPadding=1, labelFontSize=6.5, labelFlush=False, labelOverlap=False,
    )
    yaxis = alt.Axis(
        values=Y_TICKS, title="NPL Score", titleFontSize=6.5, titleFontWeight="bold",
        titlePadding=3, grid=False, domainColor="#000000", domainWidth=1,
        tickColor="#000000", tickSize=3, labelPadding=3, labelFontSize=6.5,
        labelFlush=False, labelOverlap=False,
    )
    legend = alt.Legend(
        title=None, orient="none", legendX=p["lx"], legendY=p["ly"], direction="vertical",
        fillColor="white", strokeColor="black", padding=2, symbolType="stroke",
        symbolSize=85, symbolStrokeWidth=2, labelFontSize=6, labelFont=FONT,
        labelColor="black", rowPadding=0, labelOffset=3,
    )
    color = alt.Color("series:N", scale=alt.Scale(domain=SERIES, range=COLORS), legend=legend)

    grid = alt.Chart(pd.DataFrame({"val": GRID_VALUES})).mark_rule(
        color="#7F7F7F", strokeWidth=1.5
    ).encode(y=alt.Y("val:Q", scale=ys, axis=yaxis))

    npl_pos = [r[0] for r in p["npl"]]
    ic_pos = [r[0] for r in p["ic"]]
    frames = [
        (pd.DataFrame({"pos": npl_pos, "val": [r[2] for r in p["npl"]], "series": SERIES[0]}), 1.6),
        (pd.DataFrame({"pos": npl_pos, "val": [r[1] for r in p["npl"]], "series": SERIES[1]}), 1.6),
        (pd.DataFrame({"pos": ic_pos, "val": [r[2] for r in p["ic"]], "series": SERIES[2]}), 1.8),
        (pd.DataFrame({"pos": ic_pos, "val": [r[1] for r in p["ic"]], "series": SERIES[3]}), 1.8),
    ]
    layers = [grid]
    for df, sw in frames:
        layers.append(
            alt.Chart(df).mark_line(strokeWidth=sw).encode(
                x=alt.X("pos:Q", scale=xs, axis=xaxis),
                y=alt.Y("val:Q", scale=ys, axis=yaxis),
                color=color,
            )
        )
    return alt.layer(*layers).properties(
        width=W, height=H,
        title=alt.TitleParams(
            text=p["title"], font=FONT, fontSize=8, fontWeight="bold", color="black",
            offset=12, dx=20, anchor="middle", frame="group",
        ),
    )


chart = alt.concat(
    *[make_panel(p) for p in PANELS], columns=3, spacing={"row": 78, "column": 89}, bounds="flush"
).resolve_scale(
    x="independent", y="independent", color="independent"
).resolve_legend(
    color="independent"
).properties(
    padding={"left": 13, "top": 28, "right": 5, "bottom": 5}
).configure_view(
    stroke="#C0C0C0", strokeWidth=1
).configure_axis(
    labelFont=FONT, titleFont=FONT, labelColor="black", titleColor="black"
).configure(background="white")

chart.save("out.html", embed_options={"renderer": "svg", "actions": False})
